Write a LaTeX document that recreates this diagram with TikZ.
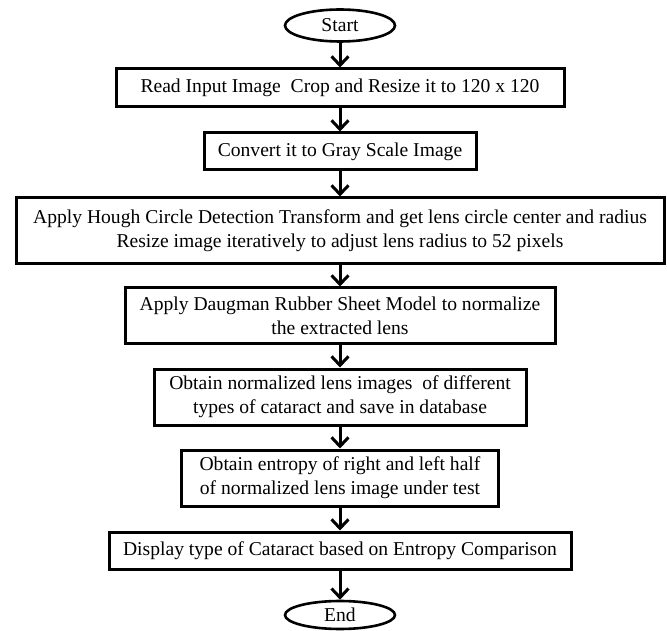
\documentclass[tikz,border=0pt]{standalone}
\usepackage{fontspec}
\setmainfont{Liberation Serif}
\usetikzlibrary{arrows.meta,shapes.geometric}
\begin{document}
\begin{tikzpicture}[x=1pt,y=-1pt,
  every node/.style={font=\fontsize{19.6pt}{24pt}\selectfont, inner sep=0pt, align=center},
  procbox/.style={draw, line width=3pt, rectangle},
  term/.style={draw, line width=2.6pt, ellipse},
  flow/.style={line width=3pt, -{Straight Barb[length=9pt,width=17pt,line width=3pt]}}]
\useasboundingbox (0,0) rectangle (667,631);
\node[term, minimum width=110pt, minimum height=32pt] (start) at (340,25.5) {Start};
\node[procbox, minimum width=448pt, minimum height=38pt] (b1) at (340,88) {Read Input Image\ \ Crop and Resize it to 120 x 120};
\node[procbox, minimum width=272pt, minimum height=37pt] (b2) at (340,151.5) {Convert it to Gray Scale Image};
\node[procbox, minimum width=648pt, minimum height=66pt] (b3) at (340,231) {Apply Hough Circle Detection Transform and get lens circle center and radius\\Resize image iteratively to adjust lens radius to 52 pixels};
\node[procbox, minimum width=430pt, minimum height=55pt] (b4) at (340,315.5) {Apply Daugman Rubber Sheet Model to normalize\\the extracted lens};
\node[procbox, minimum width=372pt, minimum height=56pt] (b5) at (340,397) {Obtain normalized lens images\ \ of different\\types of cataract and save in database};
\node[procbox, minimum width=317pt, minimum height=56pt] (b6) at (340,478) {Obtain entropy of right and left half\\of normalized lens image under test};
\node[procbox, minimum width=462pt, minimum height=37pt] (b7) at (340,550.5) {Display type of Cataract based on Entropy Comparison};
\node[term, minimum width=110pt, minimum height=28pt] (end) at (340,615) {End};
\draw[flow] (start) -- (b1);
\draw[flow] (b1) -- (b2);
\draw[flow] (b2) -- (b3);
\draw[flow] (b3) -- (b4);
\draw[flow] (b4) -- (b5);
\draw[flow] (b5) -- (b6);
\draw[flow] (b6) -- (b7);
\draw[flow] (b7) -- (end);
\end{tikzpicture}
\end{document}
